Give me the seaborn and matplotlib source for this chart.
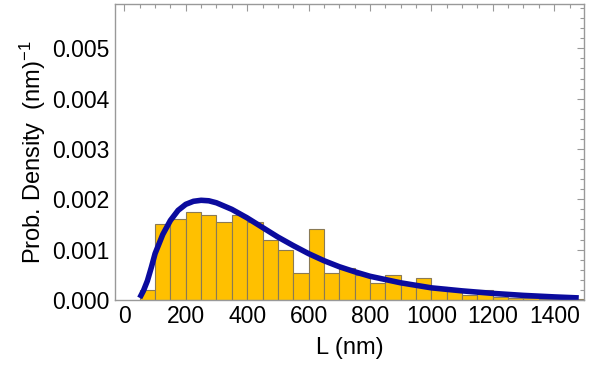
import numpy as np
import pandas as pd
import matplotlib
matplotlib.use("Agg")
import matplotlib.pyplot as plt
from matplotlib.ticker import MultipleLocator
import seaborn as sns

# histogram bins (nm) and bar heights (1/nm)
bin_edges = [50, 100, 150, 200, 250, 300, 350, 400, 450, 500, 550, 600, 650, 700,
             750, 800, 850, 900, 950, 1000, 1050, 1100, 1150, 1200, 1250, 1300,
             1350, 1400, 1450, 1500]
bar_heights = [0.00020, 0.00150, 0.00160, 0.00174, 0.00169, 0.00154, 0.00169,
               0.00154, 0.00119, 0.00099, 0.00054, 0.00140, 0.00054, 0.00064,
               0.00049, 0.00033, 0.00049, 0.00034, 0.00043, 0.00025, 0.00018,
               0.00010, 0.00019, 0.00006, 0.00004, 0.00003, 0.00002, 0.00002,
               0.00001]

# fitted distribution curve, read point by point
fit_L = [50, 62, 75, 88, 100, 125, 150, 175, 200, 225, 250, 275, 300, 350, 400,
         450, 500, 550, 600, 650, 700, 750, 800, 900, 1000, 1100, 1200, 1300,
         1400, 1480]
fit_density = [0.00004, 0.00018, 0.00038, 0.00065, 0.00092, 0.00130, 0.00158,
               0.00178, 0.00190, 0.00196, 0.00198, 0.00197, 0.00193, 0.00180,
               0.00163, 0.00144, 0.00125, 0.00108, 0.00092, 0.00078, 0.00066,
               0.00056, 0.00047, 0.00034, 0.00024, 0.00018, 0.00013, 0.00009,
               0.00006, 0.00004]

sns.set_style("white")
plt.rcParams['font.family'] = ['Liberation Sans', 'DejaVu Sans']
plt.rcParams['mathtext.fontset'] = 'custom'
plt.rcParams['mathtext.rm'] = 'Liberation Sans'
plt.rcParams['mathtext.it'] = 'Liberation Sans'
plt.rcParams['text.color'] = 'black'
plt.rcParams['axes.labelcolor'] = 'black'
plt.rcParams['xtick.labelcolor'] = 'black'
plt.rcParams['ytick.labelcolor'] = 'black'

hist_df = pd.DataFrame({
    'L': [(a + b) / 2 for a, b in zip(bin_edges[:-1], bin_edges[1:])],
    'h': bar_heights,
})
fit_df = pd.DataFrame({'L': fit_L, 'density': fit_density})

fig = plt.figure(figsize=(5.89, 3.68), dpi=100)
ax = fig.add_axes([0.195, 0.185, 0.797, 0.804])

sns.histplot(data=hist_df, x='L', weights='h', bins=bin_edges, stat='count',
             color='#FFC000', edgecolor='#8a7a55', linewidth=0.8, alpha=1.0, ax=ax)
sns.lineplot(data=fit_df, x='L', y='density', color='#0b0b9e', linewidth=4,
             ax=ax, solid_capstyle='butt')

ax.set_xlim(-31, 1498)
ax.set_ylim(0, 0.00588)
ax.xaxis.set_major_locator(MultipleLocator(200))
ax.xaxis.set_minor_locator(MultipleLocator(50))
ax.yaxis.set_major_locator(MultipleLocator(0.001))
ax.yaxis.set_minor_locator(MultipleLocator(0.0002))
ax.yaxis.set_major_formatter(matplotlib.ticker.FormatStrFormatter('%.3f'))

for s in ax.spines.values():
    s.set_color('#999999')
    s.set_linewidth(1.0)
ax.tick_params(which='both', direction='in', top=True, right=True,
               color='#999999', width=0.8)
ax.tick_params(which='major', length=5, labelsize=16.5, pad=4, labelcolor='black')
ax.tick_params(which='minor', length=3)
ax.tick_params(axis='x', which='both', labeltop=False)
ax.tick_params(axis='y', which='both', labelright=False)

ax.set_xlabel('L (nm)', fontsize=17, labelpad=6, color='black')
ax.set_ylabel(r'Prob. Density  (nm)$^{-1}$', fontsize=17, labelpad=3, color='black')

fig.savefig('out.png', dpi=100)
